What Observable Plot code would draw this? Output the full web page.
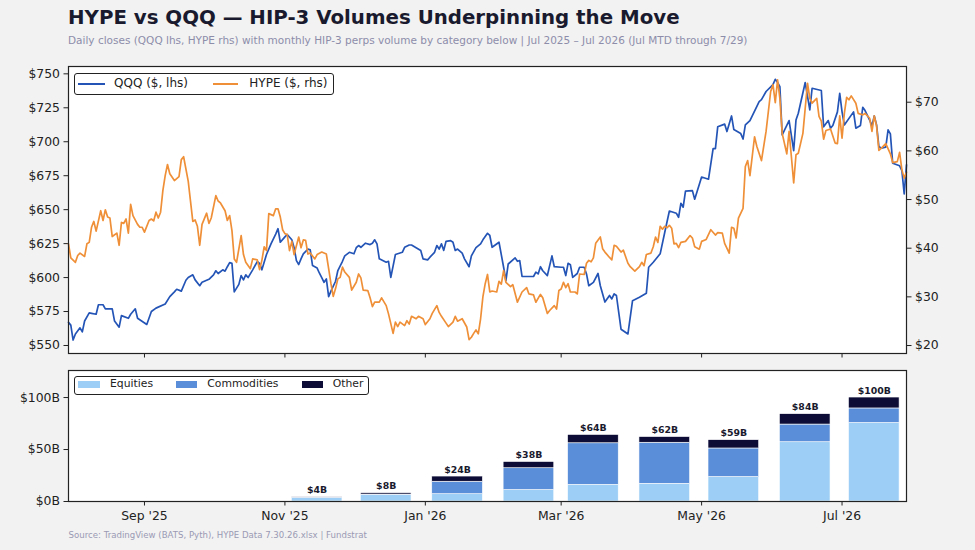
<!DOCTYPE html>
<html><head><meta charset="utf-8">
<script src="https://cdn.jsdelivr.net/npm/d3@7"></script>
<script src="https://cdn.jsdelivr.net/npm/@observablehq/plot@0.6"></script>
<style>
html,body{margin:0;padding:0;background:#f2f2f2;}
#root{position:relative;width:975px;height:550px;overflow:hidden;font-family:"DejaVu Sans",sans-serif;background:#f2f2f2;}
.abs{position:absolute;white-space:nowrap;line-height:1;}
#title{left:68px;top:8.3px;font-size:19.8px;font-weight:bold;color:#1a1a2e;}
#subtitle{left:68px;top:34.6px;font-size:10.5px;color:#8d8daa;}
#caption{left:68.5px;top:530.7px;font-size:8.6px;color:#9a9ab4;}
#top{left:0;top:56px;}
#bottom{left:0;top:361px;}
.legend{position:absolute;background:#fff;border:1px solid #222;border-radius:3px;box-sizing:border-box;}
.legend .item{position:absolute;white-space:nowrap;line-height:1;color:#222;}
.legend .ln{position:absolute;height:2px;}
.legend .sw{position:absolute;}
</style></head>
<body><div id="root">
<div id="title" class="abs">HYPE vs QQQ — HIP-3 Volumes Underpinning the Move</div>
<div id="subtitle" class="abs">Daily closes (QQQ lhs, HYPE rhs) with monthly HIP-3 perps volume by category below | Jul 2025 – Jul 2026 (Jul MTD through 7/29)</div>
<div id="top" class="abs"></div>
<div id="bottom" class="abs"></div>
<div id="caption" class="abs">Source: TradingView (BATS, Pyth), HYPE Data 7.30.26.xlsx | Fundstrat</div>
<div id="legTop" class="legend" style="left:74px;top:72.5px;width:260px;height:22px;"></div>
<div id="legBot" class="legend" style="left:74px;top:375.7px;width:295px;height:19.5px;"></div>
</div>
<script>
// ---------------- DATA ----------------
const qqqDates = [
"2025-07-30","2025-07-31","2025-08-01","2025-08-02","2025-08-04","2025-08-05","2025-08-06","2025-08-08","2025-08-09","2025-08-11",
"2025-08-12","2025-08-14","2025-08-15","2025-08-18","2025-08-19","2025-08-21","2025-08-22","2025-08-25","2025-08-26","2025-08-28",
"2025-08-29","2025-09-02","2025-09-04","2025-09-06","2025-09-10","2025-09-12","2025-09-14","2025-09-15","2025-09-17","2025-09-19",
"2025-09-20","2025-09-22","2025-09-23","2025-09-25","2025-09-26","2025-09-29","2025-10-01","2025-10-02","2025-10-03","2025-10-05",
"2025-10-06","2025-10-07","2025-10-08","2025-10-09","2025-10-10","2025-10-12","2025-10-13","2025-10-14","2025-10-15","2025-10-16",
"2025-10-18","2025-10-20","2025-10-21","2025-10-22","2025-10-24","2025-10-26","2025-10-28","2025-10-29","2025-10-30","2025-11-01",
"2025-11-02","2025-11-04","2025-11-05","2025-11-06","2025-11-07","2025-11-08","2025-11-09","2025-11-11","2025-11-12","2025-11-13",
"2025-11-15","2025-11-16","2025-11-17","2025-11-18","2025-11-19","2025-11-20","2025-11-21","2025-11-23","2025-11-24","2025-11-26",
"2025-11-27","2025-11-29","2025-12-01","2025-12-02","2025-12-03","2025-12-04","2025-12-06","2025-12-08","2025-12-09","2025-12-10",
"2025-12-11","2025-12-12","2025-12-15","2025-12-16","2025-12-17","2025-12-19","2025-12-22","2025-12-23","2025-12-25","2025-12-26",
"2025-12-28","2025-12-30","2025-12-31","2026-01-02","2026-01-03","2026-01-05","2026-01-06","2026-01-07","2026-01-08","2026-01-09",
"2026-01-10","2026-01-12","2026-01-13","2026-01-14","2026-01-15","2026-01-17","2026-01-18","2026-01-20","2026-01-21","2026-01-23",
"2026-01-25","2026-01-26","2026-01-28","2026-01-29","2026-01-30","2026-02-02","2026-02-04","2026-02-05","2026-02-06","2026-02-09",
"2026-02-10","2026-02-11","2026-02-12","2026-02-17","2026-02-18","2026-02-19","2026-02-20","2026-02-21","2026-02-23","2026-02-25",
"2026-02-26","2026-03-01","2026-03-02","2026-03-03","2026-03-04","2026-03-05","2026-03-06","2026-03-08","2026-03-09","2026-03-11",
"2026-03-12","2026-03-13","2026-03-15","2026-03-17","2026-03-18","2026-03-20","2026-03-22","2026-03-23","2026-03-24","2026-03-25",
"2026-03-27","2026-03-30","2026-04-01","2026-04-04","2026-04-07","2026-04-08","2026-04-10","2026-04-13","2026-04-15","2026-04-17",
"2026-04-20","2026-04-21","2026-04-22","2026-04-23","2026-04-24","2026-04-27","2026-04-28","2026-05-01","2026-05-04","2026-05-06",
"2026-05-07","2026-05-08","2026-05-11","2026-05-12","2026-05-14","2026-05-15","2026-05-18","2026-05-19","2026-05-20","2026-05-22",
"2026-05-26","2026-05-27","2026-05-29","2026-06-01","2026-06-02","2026-06-03","2026-06-04","2026-06-05","2026-06-08","2026-06-10",
"2026-06-11","2026-06-12","2026-06-15","2026-06-17","2026-06-18","2026-06-22","2026-06-23","2026-06-25","2026-06-26","2026-06-27",
"2026-06-29","2026-06-30","2026-07-01","2026-07-02","2026-07-06","2026-07-07","2026-07-09","2026-07-10","2026-07-11","2026-07-13",
"2026-07-14","2026-07-15","2026-07-16","2026-07-17","2026-07-18","2026-07-20","2026-07-21","2026-07-22","2026-07-23","2026-07-26",
"2026-07-27","2026-07-28","2026-07-29"];
const qqqValues = [
567,565,554,558.5,563,560,568,574,573.7,573,
580,580,577,577,568,563.5,572,570,573,577,
570,565.5,575,577.5,580.6,586,589.5,591.4,590,598,
600,602,598.3,594,596.5,598.7,602,605,603,605.7,
604.7,608,611,610.5,589.5,595,601.5,598.3,602,600,
605.7,611.8,610.5,605.7,617,625,632,636,626,630,
631.7,627.8,622,612.5,609.6,613.8,617.5,621,620.4,608.8,
607,603.2,600,596.5,599,586,590,597.3,605.2,612,
616,618.6,617.5,622,623.6,622.3,625.3,624.3,625.3,627.8,
624.8,613.8,611.3,612,600.2,617,618.6,622.3,624,624,
622,620,613.8,613,615,618.6,623.6,621,624.8,620,
626.7,627.2,626,620,621,618,613.8,608,616,622,
624.8,627.8,632.6,631,622.3,626,607.6,597.8,610,614.5,
612,612.5,600.8,600.8,604,602.7,608,605,601.5,616,
608,607.6,607.6,601.5,610.5,609.5,600.2,603,607.6,607.6,
602.7,594,596.5,603,594,582,586.8,584.3,588,586.8,
562,558.5,583,585.5,588.5,607.6,611.3,617.5,633.4,649,
647.4,644.4,654.7,651.8,663.6,664,657.7,674,672.4,695,
695,711,713,707.5,719,709,706,702,712.4,715.6,
729.6,731,737,742,746,743.6,740.6,705,715.6,693.5,
716,721,743.6,723.5,739.4,737.7,711,715.6,710,712,
722,735.7,722,712.4,722,710,712,725.4,723,716,
711.7,719,712.4,696.5,695.2,696,708.8,705.8,684.2,682.3,
678.8,661.6,683];

const hypeDates = [
"2025-07-30","2025-07-31","2025-08-02","2025-08-03","2025-08-04","2025-08-06","2025-08-07","2025-08-08","2025-08-09","2025-08-10",
"2025-08-11","2025-08-13","2025-08-14","2025-08-15","2025-08-16","2025-08-17","2025-08-18","2025-08-20","2025-08-21","2025-08-22",
"2025-08-23","2025-08-24","2025-08-25","2025-08-26","2025-08-27","2025-08-29","2025-08-30","2025-08-31","2025-09-01","2025-09-03",
"2025-09-04","2025-09-05","2025-09-06","2025-09-07","2025-09-08","2025-09-09","2025-09-10","2025-09-11","2025-09-12","2025-09-14",
"2025-09-16","2025-09-17","2025-09-18","2025-09-20","2025-09-22","2025-09-23","2025-09-24","2025-09-25","2025-09-26","2025-09-28",
"2025-09-29","2025-09-30","2025-10-02","2025-10-03","2025-10-04","2025-10-06","2025-10-07","2025-10-08","2025-10-09","2025-10-10",
"2025-10-11","2025-10-13","2025-10-14","2025-10-15","2025-10-17","2025-10-18","2025-10-20","2025-10-21","2025-10-22","2025-10-23",
"2025-10-24","2025-10-25","2025-10-27","2025-10-28","2025-10-29","2025-10-30","2025-10-31","2025-11-01","2025-11-02","2025-11-03",
"2025-11-04","2025-11-05","2025-11-07","2025-11-08","2025-11-09","2025-11-10","2025-11-11","2025-11-12","2025-11-14","2025-11-15",
"2025-11-17","2025-11-19","2025-11-20","2025-11-21","2025-11-22","2025-11-23","2025-11-24","2025-11-25","2025-11-26","2025-11-27",
"2025-11-29","2025-11-30","2025-12-02","2025-12-03","2025-12-04","2025-12-05","2025-12-07","2025-12-08","2025-12-09","2025-12-10",
"2025-12-12","2025-12-13","2025-12-15","2025-12-16","2025-12-18","2025-12-19","2025-12-20","2025-12-21","2025-12-23","2025-12-24",
"2025-12-25","2025-12-26","2025-12-28","2025-12-29","2025-12-31","2026-01-01","2026-01-03","2026-01-04","2026-01-06","2026-01-07",
"2026-01-08","2026-01-10","2026-01-11","2026-01-13","2026-01-14","2026-01-15","2026-01-17","2026-01-19","2026-01-20","2026-01-21",
"2026-01-22","2026-01-23","2026-01-24","2026-01-25","2026-01-26","2026-01-27","2026-01-28","2026-01-29","2026-01-30","2026-02-01",
"2026-02-02","2026-02-03","2026-02-04","2026-02-05","2026-02-07","2026-02-08","2026-02-10","2026-02-12","2026-02-14","2026-02-15",
"2026-02-17","2026-02-18","2026-02-20","2026-02-21","2026-02-23","2026-02-24","2026-02-26","2026-02-27","2026-02-28","2026-03-01",
"2026-03-02","2026-03-03","2026-03-04","2026-03-05","2026-03-07","2026-03-08","2026-03-09","2026-03-11","2026-03-12","2026-03-13",
"2026-03-14","2026-03-15","2026-03-16","2026-03-18","2026-03-19","2026-03-20","2026-03-22","2026-03-23","2026-03-24","2026-03-25",
"2026-03-27","2026-03-28","2026-03-30","2026-03-31","2026-04-02","2026-04-04","2026-04-05","2026-04-06","2026-04-07","2026-04-09",
"2026-04-10","2026-04-11","2026-04-12","2026-04-13","2026-04-14","2026-04-15","2026-04-16","2026-04-17","2026-04-18","2026-04-19",
"2026-04-20","2026-04-21","2026-04-22","2026-04-24","2026-04-26","2026-04-27","2026-04-28","2026-04-30","2026-05-01","2026-05-03",
"2026-05-05","2026-05-07","2026-05-08","2026-05-10","2026-05-11","2026-05-13","2026-05-14","2026-05-15","2026-05-16","2026-05-17",
"2026-05-19","2026-05-20","2026-05-21","2026-05-22","2026-05-24","2026-05-25","2026-05-27","2026-05-29","2026-05-31","2026-06-01",
"2026-06-02","2026-06-03","2026-06-04","2026-06-05","2026-06-07","2026-06-08","2026-06-09","2026-06-10","2026-06-11","2026-06-12",
"2026-06-14","2026-06-16","2026-06-17","2026-06-18","2026-06-20","2026-06-21","2026-06-22","2026-06-23","2026-06-24","2026-06-26",
"2026-06-28","2026-06-29","2026-06-30","2026-07-01","2026-07-02","2026-07-03","2026-07-04","2026-07-05","2026-07-07","2026-07-08",
"2026-07-10","2026-07-11","2026-07-13","2026-07-14","2026-07-15","2026-07-16","2026-07-17","2026-07-18","2026-07-20","2026-07-22",
"2026-07-23","2026-07-25","2026-07-26","2026-07-27","2026-07-28","2026-07-29"];
const hypeValues = [
40.9,38.0,37.1,38.5,39.0,38.3,40.9,41.2,44.3,45.5,
43.5,47.7,45.7,47.9,46.4,46.2,42.4,43.1,40.6,45.3,
45.1,46.0,43.1,49.0,46.7,44.9,44.3,44.3,43.3,45.7,
46.0,45.6,47.4,46.2,47.4,51.9,54.9,57.2,55.3,53.9,
54.7,58.2,58.8,53.8,45.5,45.8,44.5,40.6,44.9,47.2,
45.1,46.2,50.8,49.7,49.3,47.7,45.7,46.7,43.6,37.8,
37.1,42.6,38.7,37.1,35.8,37.8,37.6,35.6,37.5,40.3,
39.5,47.1,46.7,48.1,48.1,46.4,43.8,43.0,42.8,39.5,
41.4,38.7,42.3,40.1,41.7,41.6,38.8,39.0,37.8,38.7,
39.2,38.8,35.8,32.7,30.1,31.7,33.7,34.0,36.1,35.1,
34.0,31.4,33.0,34.7,33.9,31.4,31.3,29.8,28.0,28.9,
28.9,29.8,28.2,26.5,22.5,24.8,23.9,24.8,24.1,25.1,
24.4,26.0,25.5,26.0,25.5,24.3,25.5,26.6,28.2,26.8,
26.0,24.6,23.9,24.8,26.0,25.0,25.5,23.8,21.2,21.7,
22.5,23.2,22.4,25.5,30.0,32.7,34.6,31.0,31.2,31.0,
33.2,32.6,35.4,33.0,32.1,32.5,28.9,31.0,31.9,30.6,
30.4,28.9,30.5,29.8,26.6,27.2,28.2,27.5,31.3,31.6,
33.0,31.9,32.7,31.0,31.0,30.6,34.7,34.6,36.9,37.5,
37.2,38.0,41.0,42.3,39.9,39.2,38.1,37.6,40.6,40.4,
39.2,39.6,36.9,36.2,35.3,36.2,37.1,36.4,38.7,39.0,
40.3,42.3,41.2,44.5,43.9,44.5,44.2,44.7,44.1,40.9,
41.0,40.1,41.2,41.4,42.6,42.1,40.3,39.8,41.4,41.8,
43.8,42.7,43.2,43.1,41.0,39.0,44.3,44.1,42.1,46.2,
48.2,56.8,58.0,54.9,62.9,60.9,58.0,64.0,72.2,73.6,
69.9,74.6,70.8,63.6,59.4,64.0,58.8,53.4,59.2,59.5,
63.6,73.9,70.8,69.8,70.8,67.1,66.1,62.4,64.2,64.5,
61.6,61.5,67.2,62.6,67.7,71.0,70.5,71.3,69.8,67.7,
67.4,67.7,66.7,64.0,67.2,65.1,60.1,60.5,61.5,59.4,
57.6,57.8,59.7,56.1,54.4,55.6];

// Monthly HIP-3 perps volume by category ($B), bars centred mid-month
const volMonths = ["2025-11-15","2025-12-15","2026-01-15","2026-02-15","2026-03-15","2026-04-15","2026-05-15","2026-06-15","2026-07-15"];
const equities    = [3.3, 6.5, 7, 11, 16, 17, 23.5, 57, 75.5];
const commodities = [0.5, 0.2, 12, 21, 40, 39.5, 27.5, 17, 14];
const other       = [0.2, 1.3, 5, 6, 8, 5.5, 8, 10, 10.5];
const categories = ["Equities", "Commodities", "Other"];

const xTickDates = ["2025-09-01","2025-11-01","2026-01-01","2026-03-01","2026-05-01","2026-07-01"];
const qqqTicks = [550, 575, 600, 625, 650, 675, 700, 725, 750];
const hypeTicks = [20, 30, 40, 50, 60, 70];
const volTicks = [0, 50, 100];

// ---------------- STYLE ----------------
const C = {qqq: "#2455b6", hype: "#ef9038", eq: "#9dcff6", com: "#5a8ed8", oth: "#0c0c36", ink: "#222"};
const xDomain = [new Date("2025-07-30"), new Date("2026-07-29")];
const qqqDomain = [544.1, 755.4];
const hypeDomain = [18.36, 77.34];
const hypeToLeft = d3.scaleLinear(hypeDomain, qqqDomain);
const font = {fontFamily: "DejaVu Sans, sans-serif", fontSize: "12.4px", background: "transparent", color: C.ink, overflow: "visible"};

const qqq = qqqDates.map((d, i) => ({date: new Date(d), v: qqqValues[i]}));
const hype = hypeDates.map((d, i) => ({date: new Date(d), v: hypeValues[i]}));
const xTicks = xTickDates.map(d => new Date(d));

const topChart = Plot.plot({
  width: 975, height: 305,
  marginLeft: 68, marginRight: 69, marginTop: 10, marginBottom: 8,
  style: font,
  x: {type: "utc", domain: xDomain},
  y: {domain: qqqDomain},
  marks: [
    Plot.frame({fill: "white", stroke: null}),
    Plot.axisY(qqqTicks, {anchor: "left", tickSize: 4.5, tickPadding: 4, tickFormat: d => "$" + d, label: null, stroke: C.ink}),
    Plot.axisY(hypeTicks.map(h => hypeToLeft(h)), {anchor: "right", tickSize: 4.5, tickPadding: 4, tickFormat: d => "$" + Math.round(hypeToLeft.invert(d)), label: null, stroke: C.ink}),
    Plot.axisX(xTicks, {anchor: "bottom", tickSize: 4.5, tickFormat: () => "", label: null, stroke: C.ink}),
    Plot.lineY(qqq, {x: "date", y: "v", stroke: C.qqq, strokeWidth: 1.7, strokeLinejoin: "round"}),
    Plot.lineY(hype, {x: "date", y: d => hypeToLeft(d.v), stroke: C.hype, strokeWidth: 1.7, strokeLinejoin: "round"}),
    Plot.frame({stroke: C.ink, strokeWidth: 1.2})
  ]
});
document.getElementById("top").appendChild(topChart);

// stacked segments
const DAY = 864e5;
const segs = [];
const totals = [];
volMonths.forEach((m, i) => {
  const mid = new Date(m);
  const x1 = new Date(+mid - 11 * DAY), x2 = new Date(+mid + 11 * DAY);
  const vals = [equities[i], commodities[i], other[i]];
  let acc = 0;
  vals.forEach((v, k) => { segs.push({x1, x2, y1: acc, y2: acc + v, cat: categories[k]}); acc += v; });
  totals.push({mid, total: acc});
});

const bottomChart = Plot.plot({
  width: 975, height: 171,
  marginLeft: 68, marginRight: 69, marginTop: 9, marginBottom: 31,
  style: font,
  x: {type: "utc", domain: xDomain},
  y: {domain: [0, 126]},
  color: {domain: categories, range: [C.eq, C.com, C.oth]},
  marks: [
    Plot.frame({fill: "white", stroke: null}),
    Plot.rect(segs, {x1: "x1", x2: "x2", y1: "y1", y2: "y2", fill: "cat", stroke: "white", strokeWidth: 0.6}),
    Plot.text(totals, {x: "mid", y: "total", text: d => "$" + Math.round(d.total) + "B", lineAnchor: "bottom", dy: -4, fontWeight: "bold", fontSize: 9.4, fill: "#1a1a2e"}),
    Plot.axisY(volTicks, {anchor: "left", tickSize: 4.5, tickPadding: 4, tickFormat: d => "$" + d + "B", label: null, stroke: C.ink}),
    Plot.axisX(xTicks, {anchor: "bottom", tickSize: 4.5, tickPadding: 5, tickFormat: d3.utcFormat("%b '%y"), label: null, stroke: C.ink}),
    Plot.frame({stroke: C.ink, strokeWidth: 1.2})
  ]
});
document.getElementById("bottom").appendChild(bottomChart);

// ---------------- LEGENDS (HTML) ----------------
function addLine(box, left, width, color) {
  const e = document.createElement("div"); e.className = "ln";
  e.style.left = left + "px"; e.style.width = width + "px"; e.style.top = "9px"; e.style.background = color;
  box.appendChild(e);
}
function addText(box, left, top, size, txt) {
  const e = document.createElement("div"); e.className = "item";
  e.style.left = left + "px"; e.style.top = top + "px"; e.style.fontSize = size + "px"; e.textContent = txt;
  box.appendChild(e);
}
function addSwatch(box, left, color) {
  const e = document.createElement("div"); e.className = "sw";
  e.style.left = left + "px"; e.style.top = "4px"; e.style.width = "21.7px"; e.style.height = "7.6px"; e.style.background = color;
  box.appendChild(e);
}
const lt = document.getElementById("legTop");
addLine(lt, 3.3, 26.7, C.qqq); addText(lt, 39, 3.7, 12, "QQQ ($, lhs)");
addLine(lt, 138, 25.3, C.hype); addText(lt, 174.3, 3.7, 12, "HYPE ($, rhs)");
const lb = document.getElementById("legBot");
const swColors = [C.eq, C.com, C.oth];
const swLeft = [3.3, 100.7, 226.7], txLeft = [35, 132.3, 257.7];
categories.forEach((c, i) => { addSwatch(lb, swLeft[i], swColors[i]); addText(lb, txLeft[i], 2.5, 10.8, c); });
</script>
</body></html>
